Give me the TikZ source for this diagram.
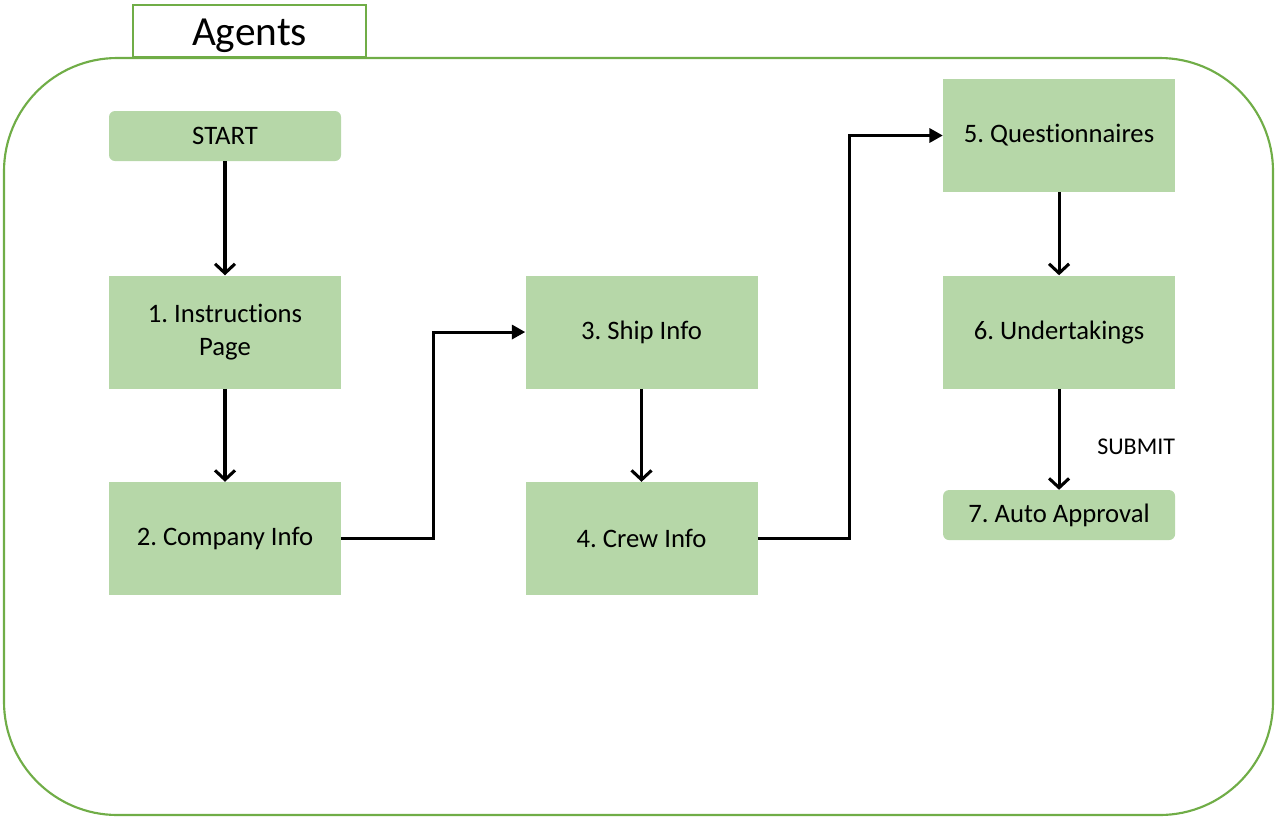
\documentclass[tikz,border=0pt]{standalone}
\usepackage{fontspec}
\setmainfont[Ligatures=NoCommon]{Carlito}
\frenchspacing
\usetikzlibrary{arrows.meta,positioning,backgrounds}
\definecolor{framegreen}{HTML}{70AD47}
\definecolor{boxgreen}{HTML}{B6D7A8}
\tikzset{
  box/.style={fill=boxgreen, minimum width=174pt, minimum height=84.75pt,
    align=center, font=\fontsize{20}{24.5}\selectfont, inner sep=0pt},
  endbox/.style={box, minimum height=37.5pt, rounded corners=4.5pt},
  downarrow/.style={draw, line width=2.3pt, -{Straight Barb[length=7pt,width=15pt]}},
  elbowarrow/.style={draw, line width=2.3pt, -{Triangle[length=10pt,width=10.5pt]}}
}

\begin{document}
\begin{tikzpicture}[x=0.75pt, y=-0.75pt]
  \useasboundingbox (0,0) rectangle (1276,818);

  % frame
  \draw[framegreen, line width=1.6pt, rounded corners=85pt] (4,58) rectangle (1273,815);
  \node[draw=framegreen, line width=1.8pt, fill=white, minimum width=174.75pt,
    minimum height=39pt, inner sep=0pt, text height=28pt, text depth=6pt,
    font=\fontsize{31}{36}\selectfont] (title) at (249.5,31) {Agents};

  \node[endbox] (start) at (225,136) {START};
  \node[box] (instr) [below = 85.5pt of start] {1. Instructions\\Page};
  \node[box] (company) [below = 69.75pt of instr] {2. Company Info};
  \node[box] (ship) [right = 138pt of instr] {3. Ship Info};
  \node[box] (crew) [below = 69.75pt of ship] {4. Crew Info};
  \node[box] (under) [right = 138.75pt of ship] {6. Undertakings};
  \node[box] (quest) [above = 62.25pt of under] {5. Questionnaires};
  \node[endbox] (approval) [below = 75.75pt of under] {7. Auto Approval};

  \path[downarrow] (start) -- (instr);
  \path[downarrow] (instr) -- (company);
  \path[downarrow] (ship) -- (crew);
  \path[downarrow] (quest) -- (under);
  \path[downarrow] (under) -- node[pos=0.576, right=27.5pt, inner sep=0pt,
    font=\fontsize{18}{22}\selectfont] (submit) {SUBMIT} (approval);

  \path[elbowarrow] (company.east) -- ++(92,0) |- (ship.west);
  \path[elbowarrow] (crew.east) -- ++(92,0) |- (quest.west);
\end{tikzpicture}
\end{document}
